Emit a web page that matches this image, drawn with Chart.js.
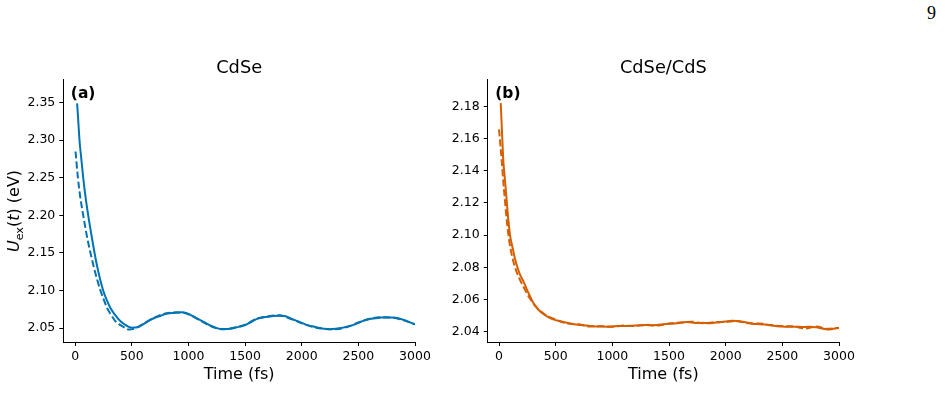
<!DOCTYPE html>
<html>
<head>
<meta charset="utf-8">
<script src="https://cdn.jsdelivr.net/npm/chart.js@4"></script>
<style>
  body { margin: 0; background: #fff; width: 945px; height: 417px; position: relative; overflow: hidden; }
  canvas { position: absolute; top: 0; }
  #pagenum { position: absolute; left: 927px; top: 4px; font: 18px/18px "Liberation Serif", "DejaVu Serif", serif; color: #000; }
</style>
</head>
<body>
<div id="pagenum">9</div>
<canvas id="chartCdSe" width="430" height="417" style="left:0"></canvas>
<canvas id="chartCdS" width="515" height="417" style="left:430px"></canvas>
<script>
// CdSe (a): solid and dashed curves
const timeCdSe = [17, 25, 38, 50, 71, 90, 115, 140, 171, 200, 247, 280, 312, 350, 400, 450, 500, 550, 600, 650, 700,
  750, 800, 850, 900, 950, 1000, 1050, 1100, 1150, 1200, 1250, 1300, 1350, 1400, 1450, 1500, 1550, 1600, 1650, 1700,
  1750, 1800, 1850, 1900, 1950, 2000, 2050, 2100, 2150, 2200, 2250, 2300, 2350, 2400, 2450, 2500, 2550, 2600, 2650,
  2700, 2750, 2800, 2850, 2900, 2950, 3000];
const energyCdSe = [2.349, 2.331, 2.300, 2.281, 2.250, 2.226, 2.200, 2.177, 2.150, 2.128, 2.100, 2.087, 2.0765, 2.068,
  2.059, 2.0535, 2.0505, 2.051, 2.055, 2.060, 2.0635, 2.066, 2.069, 2.070, 2.0705, 2.071, 2.069, 2.065, 2.061, 2.057,
  2.053, 2.050, 2.0487, 2.0488, 2.050, 2.052, 2.054, 2.058, 2.062, 2.064, 2.065, 2.066, 2.0665, 2.066, 2.063, 2.060,
  2.057, 2.054, 2.052, 2.0505, 2.049, 2.0485, 2.049, 2.050, 2.052, 2.054, 2.057, 2.060, 2.062, 2.063, 2.064, 2.0642,
  2.064, 2.063, 2.061, 2.058, 2.055];
const timeCdSeDash = [3, 24, 45, 71, 100, 135, 175, 223, 250, 282, 320, 356, 400, 444, 474, 520, 600, 700, 800,
  900, 1000, 1100, 1200, 1300, 1400, 1500, 1600, 1700, 1800, 1900, 2000, 2100, 2200, 2300, 2400, 2500, 2600, 2700,
  2800, 2900, 3000];
const energyCdSeDash = [2.285, 2.250, 2.224, 2.200, 2.175, 2.150, 2.125, 2.100, 2.089, 2.0765, 2.067, 2.059, 2.054,
  2.050, 2.048, 2.049, 2.0555, 2.064, 2.0695, 2.071, 2.0685, 2.0605, 2.0525, 2.0485, 2.0505, 2.0545, 2.0625,
  2.0655, 2.067, 2.0625, 2.0565, 2.0515, 2.049, 2.0485, 2.0515, 2.0575, 2.0625, 2.0645, 2.064, 2.0605, 2.055];

// CdSe/CdS (b): solid and dashed curves
const timeCdS = [15, 25, 38, 50, 60, 68, 80, 97, 120, 140, 160, 185, 210, 235, 260, 290, 320, 350, 400, 450,
  500, 550, 600, 650, 700, 750, 800, 850, 900, 950, 1000, 1050, 1100, 1150, 1200, 1250, 1300, 1350, 1400, 1450,
  1500, 1550, 1600, 1650, 1700, 1750, 1800, 1850, 1900, 1950, 2000, 2050, 2100, 2150, 2200, 2250, 2300, 2350,
  2400, 2450, 2500, 2550, 2600, 2650, 2700, 2750, 2800, 2850, 2900, 2950, 3000];
const energyCdS = [2.182, 2.166, 2.146, 2.136, 2.128, 2.121, 2.111, 2.100, 2.092, 2.0855, 2.0805, 2.0755, 2.072,
  2.068, 2.064, 2.0595, 2.056, 2.0535, 2.0505, 2.0485, 2.0472, 2.0463, 2.0455, 2.0448, 2.0443, 2.044, 2.0436, 2.0433,
  2.0432, 2.0431, 2.0433, 2.0435, 2.0436, 2.0435, 2.0438, 2.044, 2.0441, 2.0439, 2.0442, 2.0446, 2.0449, 2.0451,
  2.0455, 2.046, 2.0457, 2.0454, 2.0455, 2.0453, 2.0456, 2.0459, 2.0463, 2.0468, 2.0466, 2.0462, 2.0455, 2.0448,
  2.0447, 2.0444, 2.0438, 2.0434, 2.0432, 2.043, 2.0431, 2.043, 2.0429, 2.0431, 2.0427, 2.042, 2.0414, 2.0418, 2.0425];
const timeCdSDash = [0, 12, 24, 38, 53, 70, 91, 115, 141, 170, 200, 230, 260, 320, 400, 500, 600, 700, 800,
  900, 1000, 1100, 1200, 1300, 1400, 1500, 1600, 1700, 1800, 1900, 2000, 2100, 2200, 2300, 2400, 2500, 2600, 2700,
  2800, 2900, 3000];
const energyCdSDash = [2.1657, 2.156, 2.146, 2.133, 2.121, 2.108, 2.096, 2.087, 2.080, 2.0745, 2.070, 2.066, 2.062,
  2.056, 2.051, 2.0475, 2.0452, 2.0446, 2.0433, 2.0434, 2.0431, 2.0438, 2.0436, 2.0443, 2.0438,
  2.0451, 2.0457, 2.0462, 2.0452, 2.0459, 2.0461, 2.0465, 2.0452, 2.0451, 2.0441, 2.0435, 2.0433, 2.042, 2.0432,
  2.0418, 2.0423];

const ticksTime = [0, 500, 1000, 1500, 2000, 2500, 3000];
const ticksCdSe = [2.05, 2.10, 2.15, 2.20, 2.25, 2.30, 2.35];
const ticksCdS = [2.04, 2.06, 2.08, 2.10, 2.12, 2.14, 2.16, 2.18];

const FONT = '"DejaVu Sans", sans-serif';
const BLUE = '#0173B2';
const ORANGE = '#D55E00';

const pts = (xs, ys) => xs.map((x, i) => ({ x, y: ys[i] }));

// titles, panel letters and the rich y label
const decor = {
  id: 'decor',
  afterDraw(chart, args, opts) {
    const { ctx, chartArea: a } = chart;
    ctx.save();
    ctx.fillStyle = '#000';
    ctx.textBaseline = 'alphabetic';
    ctx.font = `17.8px ${FONT}`;
    ctx.textAlign = 'center';
    ctx.fillText(opts.title, (a.left + a.right) / 2, 73);
    ctx.font = `bold 15.5px ${FONT}`;
    ctx.textAlign = 'left';
    ctx.fillText(opts.label, a.left + 7.5, 98);
    if (opts.ylabel) {
      ctx.translate(19, 211);
      ctx.rotate(-Math.PI / 2);
      const parts = [
        ['italic 16px', 'U', 0],
        ['11.2px', 'ex', 3.5],
        ['16px', '(', 0],
        ['italic 16px', 't', 0],
        ['16px', ') (eV)', 0]
      ];
      let w = 0;
      parts.forEach(p => { ctx.font = `${p[0]} ${FONT}`; w += ctx.measureText(p[1]).width; });
      let x = -w / 2;
      parts.forEach(p => {
        ctx.font = `${p[0]} ${FONT}`;
        ctx.fillText(p[1], x, p[2]);
        x += ctx.measureText(p[1]).width;
      });
    }
    ctx.restore();
  }
};

function makeChart(id, color, solid, dashed, xmin, ymin, ymax, yticks, yWidth, padRight, decorOpts) {
  const axisGrid = { display: true, drawOnChartArea: false, drawTicks: true, tickLength: 4, tickColor: '#000', tickWidth: 1 };
  const axisBorder = { display: true, color: '#000', width: 1 };
  const tickFont = { family: FONT, size: 12.5 };
  new Chart(document.getElementById(id).getContext('2d'), {
    type: 'line',
    data: {
      datasets: [
        { data: solid, borderColor: color, borderWidth: 2, pointRadius: 0, cubicInterpolationMode: 'monotone' },
        { data: dashed, borderColor: color, borderWidth: 2, borderDash: [7, 3], pointRadius: 0, cubicInterpolationMode: 'monotone' }
      ]
    },
    options: {
      responsive: false,
      animation: false,
      layout: { padding: { left: 0, top: 79, right: padRight, bottom: 0 } },
      plugins: { legend: { display: false }, tooltip: { enabled: false }, decor: decorOpts },
      scales: {
        x: {
          type: 'linear', min: xmin, max: 3000,
          afterBuildTicks: s => { s.ticks = ticksTime.map(v => ({ value: v })); },
          afterFit: s => { s.height = 75; s.paddingLeft = 0; s.paddingRight = 0; },
          ticks: { color: '#000', font: tickFont, padding: 3, maxRotation: 0, callback: v => String(v) },
          grid: axisGrid, border: axisBorder,
          title: { display: true, text: 'Time (fs)', color: '#000', font: { family: FONT, size: 16 }, padding: { top: 0, bottom: 33 } }
        },
        y: {
          type: 'linear', min: ymin, max: ymax,
          afterBuildTicks: s => { s.ticks = yticks.map(v => ({ value: v })); },
          afterFit: s => { s.width = yWidth; s.paddingTop = 0; s.paddingBottom = 0; },
          ticks: { color: '#000', font: tickFont, padding: 4, callback: v => v.toFixed(2) },
          grid: axisGrid, border: axisBorder
        }
      }
    },
    plugins: [decor]
  });
}

makeChart('chartCdSe', BLUE, pts(timeCdSe, energyCdSe), pts(timeCdSeDash, energyCdSeDash),
  -105, 2.0315, 2.3815, ticksCdSe, 63.3, 15, { title: 'CdSe', label: '(a)', ylabel: true });
makeChart('chartCdS', ORANGE, pts(timeCdS, energyCdS), pts(timeCdSDash, energyCdSDash),
  -100, 2.0336, 2.197, ticksCdS, 57.7, 106, { title: 'CdSe/CdS', label: '(b)', ylabel: false });
</script>
</body>
</html>
